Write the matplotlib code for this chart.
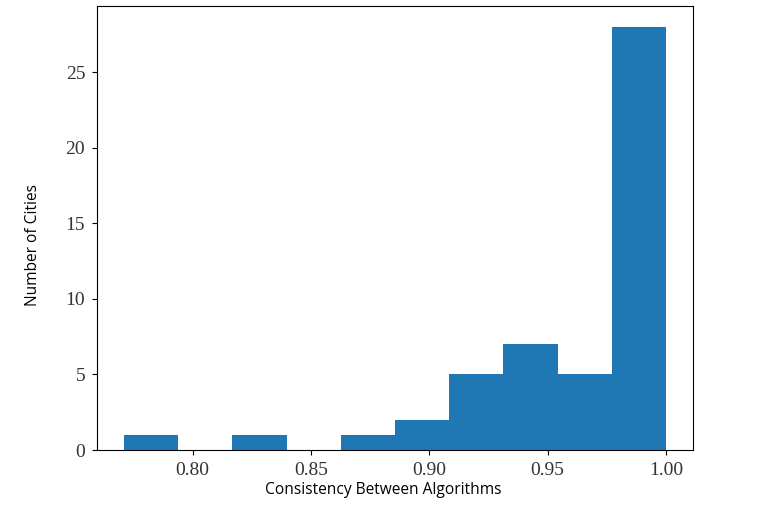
import matplotlib
matplotlib.use("Agg")
import matplotlib.pyplot as plt
import numpy as np

bin_edges = np.linspace(0.771, 1.0, 11)
counts = [1, 0, 1, 0, 1, 2, 5, 7, 5, 28]
xticks = [0.80, 0.85, 0.90, 0.95, 1.00]
yticks = [0, 5, 10, 15, 20, 25]

centers = (bin_edges[:-1] + bin_edges[1:]) / 2

fig = plt.figure(figsize=(7.7, 5.13), dpi=100)
ax = fig.add_axes([0.126, 0.1228, 0.774, 0.866])
ax.hist(centers, bins=bin_edges, weights=counts, color="#1f77b4")
ax.set_xticks(xticks)
ax.set_xticklabels([f"{t:.2f}" for t in xticks])
ax.set_yticks(yticks)
ax.tick_params(axis="both", pad=5)
for lab in ax.get_xticklabels() + ax.get_yticklabels():
    lab.set_fontfamily("Liberation Serif")
    lab.set_fontsize(14)
    lab.set_color("#333333")
ax.set_xlabel("Consistency Between Algorithms", fontfamily="Open Sans", fontsize=11.2, va="center")
ax.xaxis.set_label_coords(0.48, -0.09)
ax.set_ylabel("Number of Cities", fontfamily="Open Sans", fontsize=11.2, va="center")
ax.yaxis.set_label_coords(-0.107, 0.462)
fig.savefig("out.png", dpi=100)
